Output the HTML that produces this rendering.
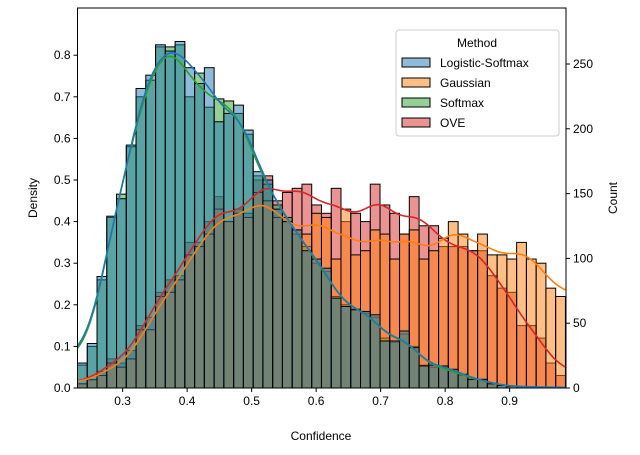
<!DOCTYPE html>
<html><head><meta charset="utf-8"><style>
body{margin:0;background:#fff;}
svg{display:block;font-family:"Liberation Sans","DejaVu Sans",sans-serif;}
</style></head><body>
<svg id="chart" width="640" height="455"></svg>
<script>
const binStart = 0.23;
const binWidth = 0.01513;
const logisticSoftmax = [0.06,0.107,0.268,0.413,0.455,0.584,0.72,0.752,0.825,0.81,0.833,0.77,0.732,0.77,0.64,0.66,0.68,0.62,0.52,0.50,0.43,0.40,0.38,0.33,0.31,0.288,0.216,0.196,0.188,0.184,0.176,0.113,0.113,0.137,0.097,0.053,0.055,0.053,0.045,0.033,0.021,0.021,0.01,0.006,0.004,0.003,0.003,0.002,0.002,0.001];
const softmax = [0.055,0.10,0.26,0.41,0.466,0.58,0.70,0.74,0.82,0.82,0.825,0.70,0.757,0.675,0.695,0.69,0.66,0.61,0.51,0.49,0.44,0.41,0.37,0.34,0.30,0.28,0.22,0.20,0.19,0.18,0.17,0.12,0.11,0.13,0.10,0.055,0.05,0.05,0.04,0.03,0.02,0.02,0.01,0.006,0.004,0.003,0.002,0.002,0.001,0.001];
const gaussian = [0.01,0.02,0.03,0.06,0.05,0.07,0.14,0.14,0.22,0.23,0.26,0.32,0.34,0.37,0.43,0.40,0.42,0.41,0.47,0.45,0.41,0.40,0.38,0.37,0.42,0.41,0.31,0.43,0.32,0.33,0.38,0.37,0.31,0.37,0.38,0.31,0.33,0.36,0.40,0.37,0.33,0.37,0.32,0.32,0.31,0.35,0.31,0.30,0.24,0.22];
const ove = [0.01,0.02,0.04,0.07,0.06,0.09,0.15,0.17,0.23,0.26,0.27,0.35,0.35,0.40,0.46,0.40,0.43,0.42,0.50,0.51,0.45,0.47,0.48,0.49,0.44,0.42,0.48,0.40,0.42,0.40,0.49,0.44,0.42,0.37,0.46,0.39,0.39,0.34,0.34,0.34,0.33,0.33,0.27,0.24,0.23,0.15,0.15,0.12,0.06,0.03];
const densityTicks = [0.0,0.1,0.2,0.3,0.4,0.5,0.6,0.7,0.8];
const countTicks = [0,50,100,150,200,250];
const xTicks = [0.3,0.4,0.5,0.6,0.7,0.8,0.9];
const seriesColors = ["#1f77b4","#ff7f0e","#2ca02c","#d62728"];

const L=77.5,R=566,T=8,B=388;
const xMin=0.23,xMax=0.23+(R-L)/645;
const x=v=>L+(v-xMin)/(xMax-xMin)*(R-L);
const y=d=>B-d*416;
const yc=c=>B-c*(324/250);
const svg=document.getElementById('chart');
const NS='http://www.w3.org/2000/svg';
function mk(tag,attrs,parent){const e=document.createElementNS(NS,tag);for(const k in attrs)e.setAttribute(k,attrs[k]);(parent||svg).appendChild(e);return e;}

const data=[logisticSoftmax,gaussian,softmax,ove];
const slugs=["logistic-softmax","gaussian","softmax","ove"];
const order=[3,2,1,0];
order.forEach(s=>{
  const arr=data[s];
  const g=mk('g',{});
  
  
  arr.forEach((v,i)=>{
    const x0=x(binStart+i*binWidth),x1=x(binStart+(i+1)*binWidth);
    const r=mk('rect',{x:x0,y:y(v),width:x1-x0,height:B-y(v),fill:seriesColors[s],'fill-opacity':0.5,stroke:'#000','stroke-width':1},g);
    
    
  });
});
order.forEach(s=>{
  const arr=data[s];
  const n=arr.length,sig=1.3;let pts=[];
  for(let t=0;t<=n*4;t++){
    const c=t/4-0.5;let num=0,den=0;
    for(let j=0;j<n;j++){const w=Math.exp(-((j-c)**2)/(2*sig*sig));num+=w*arr[j];den+=w;}
    const v=num/den;
    pts.push(x(binStart+(c+0.5)*binWidth).toFixed(1)+','+y(v).toFixed(1));
  }
  const p=mk('polyline',{points:pts.join(' '),fill:'none',stroke:seriesColors[s],'stroke-width':1.6});
  
  
});
const fr=mk('rect',{x:L,y:T,width:R-L,height:B-T,fill:'none',stroke:'#000','stroke-width':1});


xTicks.forEach(v=>{
  mk('line',{x1:x(v),x2:x(v),y1:B,y2:B+4,stroke:'#000'});
  const t=mk('text',{x:x(v),y:B+17,'text-anchor':'middle','font-size':12});
  t.textContent=v.toFixed(1);
  
  
});
densityTicks.forEach(v=>{
  mk('line',{x1:L-4,x2:L,y1:y(v),y2:y(v),stroke:'#000'});
  const t=mk('text',{x:L-7,y:y(v)+4,'text-anchor':'end','font-size':12});
  t.textContent=v.toFixed(1);
  
  
});
countTicks.forEach(v=>{
  mk('line',{x1:R,x2:R+4,y1:yc(v),y2:yc(v),stroke:'#000'});
  const t=mk('text',{x:R+7,y:yc(v)+4,'text-anchor':'start','font-size':12});
  t.textContent=v;
  
  
});
</script>
<svg style="position:absolute;left:0;top:0" width="640" height="455">
<text x="321" y="440" text-anchor="middle" font-size="12" font-family="Liberation Sans, sans-serif">Confidence</text>
<text transform="translate(37,198) rotate(-90)" text-anchor="middle" font-size="12" font-family="Liberation Sans, sans-serif">Density</text>
<text transform="translate(617,198) rotate(-90)" text-anchor="middle" font-size="12" font-family="Liberation Sans, sans-serif">Count</text>
<g font-family="Liberation Sans, sans-serif" font-size="12">
<rect x="396" y="30" width="163" height="106" rx="3" fill="#fff" fill-opacity="0.85" stroke="#ccc"/>
<text x="477" y="47" text-anchor="middle">Method</text>
<g><rect x="402" y="58" width="28" height="9" fill="#1f77b4" fill-opacity="0.5" stroke="#000"/><text x="440" y="67">Logistic-Softmax</text></g>
<g><rect x="402" y="78" width="28" height="9" fill="#ff7f0e" fill-opacity="0.5" stroke="#000"/><text x="440" y="87">Gaussian</text></g>
<g><rect x="402" y="98" width="28" height="9" fill="#2ca02c" fill-opacity="0.5" stroke="#000"/><text x="440" y="107">Softmax</text></g>
<g><rect x="402" y="118" width="28" height="9" fill="#d62728" fill-opacity="0.5" stroke="#000"/><text x="440" y="127">OVE</text></g>
</g>
</svg>
</body></html>
